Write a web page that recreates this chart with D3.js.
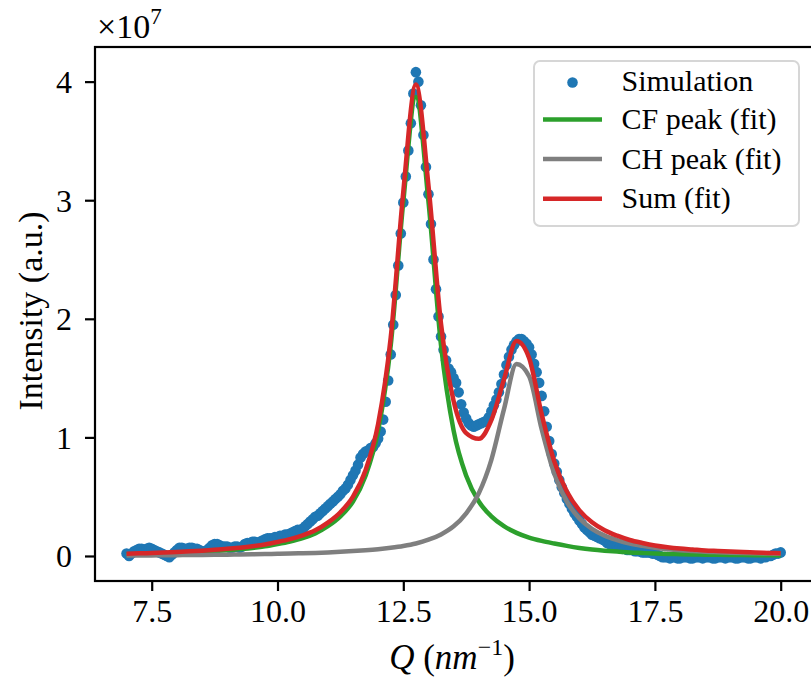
<!DOCTYPE html>
<html>
<head>
<meta charset="utf-8">
<script src="https://cdn.jsdelivr.net/npm/d3@7"></script>
<style>
  html, body { margin: 0; padding: 0; background: #ffffff; }
  svg { display: block; }
  text { font-family: "Liberation Serif", "DejaVu Serif", serif; fill: #000; }
</style>
</head>
<body>
<script>
// ---------------- data (intensities in units of 1e7) ----------------
const simQStart = 7.0;
const simQStep = 0.05;
const simulation = [
  0.02,0.00,0.02,0.04,0.05,0.06,0.06,0.05,0.06,0.07,
  0.06,0.05,0.04,0.03,0.02,0.01,0.00,-0.01,0.01,0.03,
  0.05,0.07,0.07,0.06,0.06,0.07,0.07,0.06,0.06,0.05,
  0.04,0.04,0.05,0.07,0.09,0.10,0.10,0.09,0.08,0.08,
  0.08,0.07,0.07,0.08,0.08,0.07,0.08,0.10,0.11,0.11,
  0.12,0.12,0.11,0.12,0.13,0.14,0.15,0.15,0.15,0.16,
  0.16,
  0.17,0.17,0.18,0.18,0.19,0.20,0.21,0.22,0.22,0.23,
  0.25,0.27,0.29,0.31,0.33,0.34,0.36,0.38,0.40,0.42,
  0.44,0.46,0.48,0.50,0.52,0.55,0.57,0.60,0.64,0.68,
  0.72,0.77,0.83,0.86,0.88,0.89,0.91,0.92,0.95,0.99,
  1.05,1.15,1.30,1.48,1.70,1.95,2.20,2.45,2.72,2.98,
  3.20,3.42,3.65,3.90,4.08,4.00,3.80,3.55,3.28,3.05,
  2.80,2.50,2.25,2.02,1.85,1.74,1.65,1.58,1.55,1.50,
  1.46,1.38,1.28,1.21,1.16,1.12,1.10,1.09,1.10,1.11,
  1.12,1.13,1.14,1.17,1.22,1.27,1.32,1.38,1.45,1.53,
  1.61,1.68,1.74,1.78,1.81,1.83,1.83,1.81,1.79,1.76,
  1.70,1.62,1.55,1.46,1.35,1.22,1.09,0.97,0.86,0.78,
  0.71,0.64,
  0.58,0.53,0.48,0.44,0.40,0.36,0.33,0.30,0.27,0.24,
  0.22,0.20,0.18,0.17,0.16,0.15,0.14,0.13,0.11,0.10,
  0.09,0.08,0.08,0.07,0.06,0.06,0.05,0.05,0.05,0.04,
  0.04,0.04,0.03,0.03,0.03,0.03,0.02,0.02,0.01,0.00,
  -0.01,-0.01,-0.01,-0.02,-0.01,-0.01,-0.02,-0.02,-0.01,-0.01,
  -0.01,-0.02,-0.02,-0.01,-0.01,-0.01,-0.02,-0.01,-0.01,-0.01,
  -0.02,-0.02,-0.01,-0.01,-0.01,-0.02,-0.01,-0.01,-0.01,-0.02,
  -0.02,-0.01,-0.01,-0.01,-0.02,-0.02,-0.01,-0.01,-0.01,-0.02,
  -0.01,-0.01,0.00,0.00,0.01,0.02,0.02,0.03
];

const fitQ = [
  7.00,7.25,7.50,7.75,8.00,8.25,8.50,8.75,9.00,9.25,
  9.50,9.75,10.00,10.25,10.50,10.75,11.00,11.25,11.50,11.75,
  12.00,12.25,12.50,12.75,13.00,13.25,13.50,13.75,14.00,14.25,
  14.50,14.75,15.00,15.25,15.50,15.75,16.00,16.25,16.50,16.75,
  17.00,17.25,17.50,17.75,18.00,18.25,18.50,18.75,19.00,19.25,
  19.50,19.75,20.00
];
const cfPeak = [
  0.015,0.017,0.020,0.023,0.027,0.031,0.036,0.042,0.049,0.058,
  0.068,0.081,0.100,0.122,0.150,0.190,0.251,0.334,0.459,0.676,
  1.057,1.774,2.988,3.870,2.988,1.774,1.057,0.676,0.459,0.334,
  0.251,0.195,0.155,0.127,0.105,0.085,0.068,0.055,0.045,0.037,
  0.030,0.025,0.020,0.017,0.015,0.013,0.011,0.010,0.009,0.008,
  0.007,0.006,0.005
];
const chPeak = [
  0.004,0.005,0.005,0.006,0.007,0.008,0.009,0.010,0.011,0.012,
  0.014,0.016,0.018,0.020,0.023,0.026,0.030,0.035,0.041,0.048,
  0.057,0.069,0.084,0.105,0.137,0.182,0.250,0.360,0.529,0.811,
  1.236,1.618,1.515,1.069,0.693,0.458,0.317,0.229,0.172,0.134,
  0.105,0.085,0.069,0.057,0.048,0.042,0.036,0.032,0.028,0.025,
  0.022,0.020,0.018
];
const sumFit = [
  0.019,0.022,0.025,0.029,0.034,0.039,0.045,0.052,0.060,0.070,
  0.082,0.097,0.118,0.142,0.173,0.216,0.281,0.369,0.500,0.724,
  1.114,1.843,3.072,3.975,3.125,1.956,1.307,1.036,0.988,1.145,
  1.487,1.813,1.670,1.196,0.798,0.543,0.385,0.284,0.217,0.171,
  0.135,0.110,0.089,0.074,0.063,0.055,0.047,0.042,0.037,0.033,
  0.029,0.026,0.023
];

const xTicks = [7.5, 10.0, 12.5, 15.0, 17.5, 20.0];
const yTicks = [0, 1, 2, 3, 4];
const legendLabels = ["Simulation", "CF peak (fit)", "CH peak (fit)", "Sum (fit)"];
const colors = { sim: "#1f77b4", cf: "#2ca02c", ch: "#7f7f7f", sum: "#d62728" };

// ---------------- layout ----------------
const W = 811, H = 678;
const plot = { left: 95, top: 47, bottom: 581, right: 813.4 };

const svg = d3.select("body").append("svg").attr("width", W).attr("height", H);
svg.append("rect").attr("width", W).attr("height", H).attr("fill", "#fff");

const x = d3.scaleLinear().domain([6.373, 20.65]).range([plot.left, plot.right]);
const y = d3.scaleLinear().domain([-0.211, 4.292]).range([plot.bottom, plot.top]);

// ---------------- marks ----------------
const simData = simulation.map((v, i) => ({ q: simQStart + i * simQStep, v }));
svg.append("g").selectAll("circle").data(simData).join("circle")
  .attr("cx", d => x(d.q)).attr("cy", d => y(d.v)).attr("r", 5.3)
  .attr("fill", colors.sim);

const line = d3.line().x(d => x(d[0])).y(d => y(d[1])).curve(d3.curveMonotoneX);
const series = [
  { vals: cfPeak, color: colors.cf },
  { vals: chPeak, color: colors.ch },
  { vals: sumFit, color: colors.sum }
];
series.forEach(s => {
  svg.append("path")
    .attr("d", line(fitQ.map((q, i) => [q, s.vals[i]])))
    .attr("fill", "none").attr("stroke", s.color)
    .attr("stroke-width", 4.5).attr("stroke-linejoin", "round").attr("stroke-linecap", "butt");
});

// ---------------- axes ----------------
const fs = 32;
const xAxis = svg.append("g").attr("transform", `translate(0,${plot.bottom})`)
  .call(d3.axisBottom(x).tickValues(xTicks).tickFormat(d3.format(".1f")).tickSize(10).tickPadding(12));
xAxis.select(".domain").remove();
xAxis.selectAll(".tick line").attr("stroke", "#000").attr("stroke-width", 2.2);
xAxis.selectAll(".tick text").attr("font-size", fs).attr("font-family", "Liberation Serif")
  .attr("y", 41).attr("dy", null);

const yAxis = svg.append("g").attr("transform", `translate(${plot.left},0)`)
  .call(d3.axisLeft(y).tickValues(yTicks).tickFormat(d3.format("d")).tickSize(10).tickPadding(13));
yAxis.select(".domain").remove();
yAxis.selectAll(".tick line").attr("stroke", "#000").attr("stroke-width", 2.2);
yAxis.selectAll(".tick text").attr("font-size", fs).attr("font-family", "Liberation Serif")
  .attr("dy", "0.34em");

// spines
svg.append("rect")
  .attr("x", plot.left).attr("y", plot.top)
  .attr("width", plot.right - plot.left).attr("height", plot.bottom - plot.top)
  .attr("fill", "none").attr("stroke", "#000").attr("stroke-width", 2.2);

// offset text ×10^7
const off = svg.append("text").attr("x", 97).attr("y", 38).attr("font-size", 34);
off.append("tspan").text("×10");
off.append("tspan").attr("font-size", 23).attr("dy", -14).text("7");

// axis labels
const xl = svg.append("text").attr("x", 452).attr("y", 669).attr("text-anchor", "middle").attr("font-size", 35);
xl.append("tspan").attr("font-style", "italic").text("Q");
xl.append("tspan").text(" (");
xl.append("tspan").attr("font-style", "italic").text("nm");
xl.append("tspan").attr("font-size", 24).attr("dy", -14).text("−1");
xl.append("tspan").attr("dy", 14).text(")");

svg.append("text")
  .attr("transform", "translate(42,311) rotate(-90)")
  .attr("text-anchor", "middle").attr("font-size", 34)
  .text("Intensity (a.u.)");

// ---------------- legend ----------------
const lg = svg.append("g");
lg.append("rect").attr("x", 534).attr("y", 61).attr("width", 265).attr("height", 165)
  .attr("rx", 6).attr("ry", 6)
  .attr("fill", "#fff").attr("fill-opacity", 0.8)
  .attr("stroke", "#d6d6d6").attr("stroke-width", 2);
const rowY = [81, 119.5, 159, 198.7];
lg.append("circle").attr("cx", 572.5).attr("cy", rowY[0] + 1.5).attr("r", 5.3).attr("fill", colors.sim);
[colors.cf, colors.ch, colors.sum].forEach((c, i) => {
  lg.append("line").attr("x1", 543).attr("x2", 602)
    .attr("y1", rowY[i + 1]).attr("y2", rowY[i + 1])
    .attr("stroke", c).attr("stroke-width", 4.5);
});
legendLabels.forEach((t, i) => {
  lg.append("text").attr("x", 621.5).attr("y", rowY[i] + 9.5).attr("font-size", 30).text(t);
});
</script>
</body>
</html>
